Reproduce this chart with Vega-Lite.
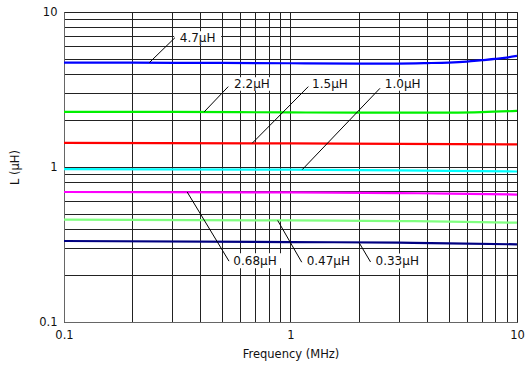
{
  "$schema": "https://vega.github.io/schema/vega-lite/v6.json",
  "autosize": {"type": "none"},
  "padding": {"left": 64, "top": 12, "right": 10, "bottom": 48},
  "width": 453,
  "height": 310,
  "config": {
    "font": "DejaVu Sans",
    "view": {"stroke": "#333", "strokeWidth": 1},
    "axis": {
      "grid": true,
      "gridColor": "#222",
      "gridWidth": 1,
      "gridOpacity": 1,
      "ticks": false,
      "domainColor": "#666",
      "labelFont": "DejaVu Sans",
      "labelFontSize": 11.5,
      "labelColor": "#111",
      "titleFont": "DejaVu Sans",
      "titleFontSize": 11.5,
      "titleFontWeight": "normal",
      "titleColor": "#111"
    }
  },
  "datasets": {
    "curves": [
      {"series": "4.7", "f": 0.1, "L": 4.72}, {"series": "4.7", "f": 0.2, "L": 4.71}, {"series": "4.7", "f": 0.5, "L": 4.69},
      {"series": "4.7", "f": 1, "L": 4.67}, {"series": "4.7", "f": 2, "L": 4.65}, {"series": "4.7", "f": 3, "L": 4.65},
      {"series": "4.7", "f": 4, "L": 4.68}, {"series": "4.7", "f": 5, "L": 4.72}, {"series": "4.7", "f": 6, "L": 4.79},
      {"series": "4.7", "f": 7, "L": 4.89}, {"series": "4.7", "f": 8, "L": 4.98}, {"series": "4.7", "f": 9, "L": 5.08},
      {"series": "4.7", "f": 10, "L": 5.21},
      {"series": "2.2", "f": 0.1, "L": 2.27}, {"series": "2.2", "f": 0.3, "L": 2.265}, {"series": "2.2", "f": 1, "L": 2.25},
      {"series": "2.2", "f": 2, "L": 2.24}, {"series": "2.2", "f": 3, "L": 2.24}, {"series": "2.2", "f": 5, "L": 2.245},
      {"series": "2.2", "f": 7, "L": 2.26}, {"series": "2.2", "f": 10, "L": 2.3},
      {"series": "1.5", "f": 0.1, "L": 1.43}, {"series": "1.5", "f": 1, "L": 1.42}, {"series": "1.5", "f": 3, "L": 1.41},
      {"series": "1.5", "f": 10, "L": 1.4},
      {"series": "1.0", "f": 0.1, "L": 0.968}, {"series": "1.0", "f": 1, "L": 0.962}, {"series": "1.0", "f": 2, "L": 0.955},
      {"series": "1.0", "f": 5, "L": 0.945}, {"series": "1.0", "f": 10, "L": 0.935},
      {"series": "0.68", "f": 0.1, "L": 0.69}, {"series": "0.68", "f": 1, "L": 0.685}, {"series": "0.68", "f": 3, "L": 0.679},
      {"series": "0.68", "f": 5, "L": 0.674}, {"series": "0.68", "f": 10, "L": 0.664},
      {"series": "0.47", "f": 0.1, "L": 0.458}, {"series": "0.47", "f": 1, "L": 0.452}, {"series": "0.47", "f": 3, "L": 0.448},
      {"series": "0.47", "f": 5, "L": 0.444}, {"series": "0.47", "f": 10, "L": 0.437},
      {"series": "0.33", "f": 0.1, "L": 0.333}, {"series": "0.33", "f": 1, "L": 0.328}, {"series": "0.33", "f": 3, "L": 0.325},
      {"series": "0.33", "f": 5, "L": 0.322}, {"series": "0.33", "f": 10, "L": 0.317}
    ],
    "leaders": [
      {"label": "4.7µH", "f": 0.238, "L": 4.71, "f2": 0.309, "L2": 6.83},
      {"label": "2.2µH", "f": 0.416, "L": 2.27, "f2": 0.531, "L2": 3.3},
      {"label": "1.5µH", "f": 0.678, "L": 1.425, "f2": 1.198, "L2": 3.3},
      {"label": "1.0µH", "f": 1.127, "L": 0.962, "f2": 2.484, "L2": 3.22},
      {"label": "0.68µH", "f": 0.35, "L": 0.689, "f2": 0.535, "L2": 0.247},
      {"label": "0.47µH", "f": 0.878, "L": 0.452, "f2": 1.121, "L2": 0.243},
      {"label": "0.33µH", "f": 2.006, "L": 0.326, "f2": 2.256, "L2": 0.244}
    ],
    "labels": [
      {"label": "4.7µH", "f": 0.389, "L": 6.8},
      {"label": "2.2µH", "f": 0.676, "L": 3.43},
      {"label": "1.5µH", "f": 1.494, "L": 3.43},
      {"label": "1.0µH", "f": 3.129, "L": 3.43},
      {"label": "0.68µH", "f": 0.697, "L": 0.2486},
      {"label": "0.47µH", "f": 1.469, "L": 0.2474},
      {"label": "0.33µH", "f": 2.959, "L": 0.2474}
    ]
  },
  "encoding": {
    "x": {
      "field": "f",
      "type": "quantitative",
      "scale": {"type": "log", "domain": [0.1, 10], "nice": false},
      "axis": {
        "title": "Frequency (MHz)",
        "values": [0.1, 0.2, 0.3, 0.4, 0.5, 0.6, 0.7, 0.8, 0.9, 1, 2, 3, 4, 5, 6, 7, 8, 9, 10],
        "labelExpr": "datum.value == 0.1 ? '0.1' : (datum.value == 1 ? '1' : (datum.value == 10 ? '10' : ''))",
        "labelPadding": 7,
        "labelFlush": false,
        "labelOverlap": false,
        "titleY": 32,
        "titleBaseline": "middle"
      }
    },
    "y": {
      "field": "L",
      "type": "quantitative",
      "scale": {"type": "log", "domain": [0.1, 10], "nice": false},
      "axis": {
        "title": "L (µH)",
        "values": [0.1, 0.2, 0.3, 0.4, 0.5, 0.6, 0.7, 0.8, 0.9, 1, 2, 3, 4, 5, 6, 7, 8, 9, 10],
        "labelExpr": "datum.value == 0.1 ? '0.1' : (datum.value == 1 ? '1' : (datum.value == 10 ? '10' : ''))",
        "labelPadding": 7,
        "labelFlush": false,
        "labelOverlap": false,
        "titleX": -49,
        "titleY": 155,
        "titleAngle": -90,
        "titleAlign": "center",
        "titleBaseline": "middle"
      }
    }
  },
  "layer": [
    {
      "data": {"name": "labels"},
      "mark": {
        "type": "point",
        "filled": true,
        "fill": "#fff",
        "opacity": 1,
        "strokeWidth": 0,
        "shape": "M-1,-0.29H1V0.29H-1Z"
      },
      "encoding": {
        "size": {"condition": {"test": "length(datum.label) > 5", "value": 2704}, "value": 2209}
      }
    },
    {
      "data": {"name": "curves"},
      "mark": {"type": "line", "strokeWidth": 2.2, "interpolate": "monotone", "clip": true},
      "encoding": {
        "color": {
          "field": "series",
          "type": "nominal",
          "legend": null,
          "scale": {
            "domain": ["4.7", "2.2", "1.5", "1.0", "0.68", "0.47", "0.33"],
            "range": ["#0000ff", "#00f000", "#ff0000", "#00ffff", "#ff00ff", "#80ff80", "#000080"]
          }
        }
      }
    },
    {
      "data": {"name": "leaders"},
      "mark": {"type": "rule", "color": "#000", "strokeWidth": 1},
      "encoding": {
        "x2": {"field": "f2"},
        "y2": {"field": "L2"}
      }
    },
    {
      "data": {"name": "labels"},
      "mark": {"type": "text", "font": "DejaVu Sans", "fontSize": 12, "color": "#111", "align": "center", "baseline": "middle"},
      "encoding": {
        "text": {"field": "label"}
      }
    }
  ]
}
